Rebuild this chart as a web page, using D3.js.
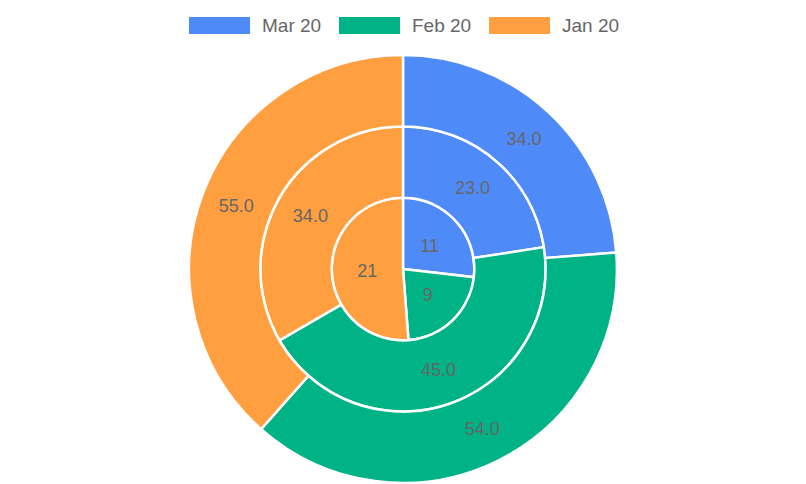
<!DOCTYPE html>
<html>
<head>
<meta charset="utf-8">
<script src="https://cdn.jsdelivr.net/npm/d3@7"></script>
<style>
  body { margin: 0; background: #fff; }
  svg { display: block; font-family: "Liberation Sans", Arial, sans-serif; }
</style>
</head>
<body>
<svg id="chart" width="806" height="484"></svg>
<script>
// series, from outside ring to inside ring
const categories = ["Mar 20", "Feb 20", "Jan 20"];
const outerValues = [34, 54, 55];
const middleValues = [23, 45, 34];
const innerValues = [11, 9, 21];
const colors = ["#4f8bf8", "#00b386", "#ff9f40"];

const width = 806, height = 484;
const cx = 403, cy = 269;
const ringWidth = 71.3;

const svg = d3.select("#chart");
const color = d3.scaleOrdinal().domain(categories).range(colors);

const pie = d3.pie().sort(null).value(d => d.value);

const rings = [
  { values: innerValues, inner: 0, fmt: d3.format("d") },
  { values: middleValues, inner: ringWidth, fmt: d3.format(".1f") },
  { values: outerValues, inner: ringWidth * 2, fmt: d3.format(".1f") }
];

const g = svg.append("g").attr("transform", "translate(" + cx + "," + cy + ")");

rings.forEach(ring => {
  const data = categories.map((c, i) => ({ cat: c, value: ring.values[i] }));
  const arc = d3.arc().innerRadius(ring.inner).outerRadius(ring.inner + ringWidth);
  const arcs = g.append("g").selectAll("g")
    .data(pie(data))
    .enter().append("g");

  arcs.append("path")
    .attr("d", arc)
    .attr("fill", d => color(d.data.cat))
    .attr("stroke", "#fff")
    .attr("stroke-width", 2.5);

  arcs.append("text")
    .attr("transform", d => "translate(" + arc.centroid(d) + ")")
    .attr("text-anchor", "middle")
    .attr("dy", "0.35em")
    .attr("fill", "#666")
    .attr("font-size", 18)
    .text(d => ring.fmt(d.data.value));
});

// legend
const legendX = [189, 339, 489];
const legend = svg.append("g").selectAll("g")
  .data(categories)
  .enter().append("g")
  .attr("transform", (d, i) => "translate(" + legendX[i] + ",17)");

legend.append("rect")
  .attr("width", 61)
  .attr("height", 17)
  .attr("fill", d => color(d));

legend.append("text")
  .attr("x", 73)
  .attr("y", 15)
  .attr("fill", "#666")
  .attr("font-size", 19)
  .text(d => d);
</script>
</body>
</html>
